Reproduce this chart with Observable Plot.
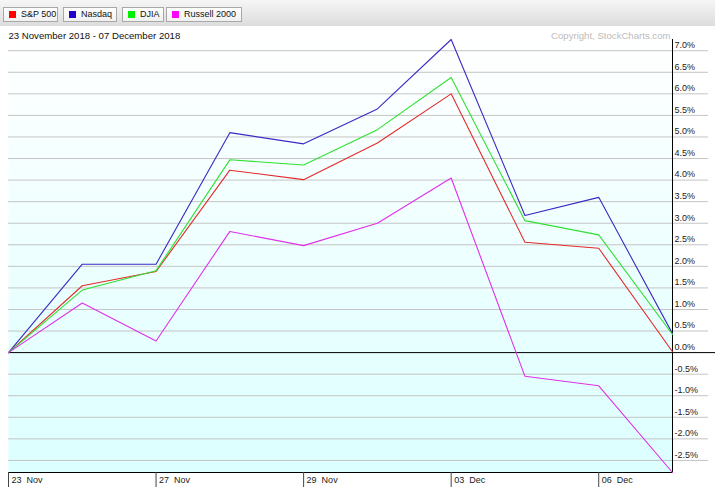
<!DOCTYPE html>
<html>
<head>
<meta charset="utf-8">
<script src="https://cdn.jsdelivr.net/npm/d3@7"></script>
<script src="https://cdn.jsdelivr.net/npm/@observablehq/plot@0.6"></script>
<style>
  html, body { margin: 0; padding: 0; background: #fff; overflow: hidden; }
  body { width: 715px; height: 487px; font-family: "Liberation Sans", Arial, sans-serif; }
  #header { height: 26px; background: linear-gradient(#f6f6f6, #dcdcdc); position: relative; }
  .btn { position: absolute; top: 7px; height: 15px; box-sizing: border-box; border: 1px solid #a8a8a8;
         background: linear-gradient(#ffffff, #f0f0f0); font-size: 9px; line-height: 13px; color: #111;
         padding-left: 17px; white-space: nowrap; }
  .btn i { position: absolute; left: 5px; top: 3px; width: 7px; height: 7px; }
  #chart svg { display: block; }
</style>
</head>
<body>
<div id="header"></div>
<div id="chart"></div>
<script>
// ---- data ----
const dates = ["23 Nov", "26 Nov", "27 Nov", "28 Nov", "29 Nov", "30 Nov", "03 Dec", "04 Dec", "06 Dec", "07 Dec"];
const sp500   = [0, 1.55, 1.88, 4.23, 4.01, 4.86, 6.00, 2.56, 2.42, 0.02];
const nasdaq  = [0, 2.05, 2.05, 5.10, 4.84, 5.65, 7.26, 3.18, 3.60, 0.44];
const djia    = [0, 1.45, 1.90, 4.47, 4.35, 5.17, 6.38, 3.06, 2.73, 0.42];
const russell = [0, 1.15, 0.27, 2.81, 2.48, 3.00, 4.05, -0.55, -0.77, -2.78];
const seriesNames = ["S&P 500", "Nasdaq", "DJIA", "Russell 2000"];
const seriesColors = ["#e42a2a", "#3c28c4", "#30e030", "#e030e8"];
const legendColors = ["#ff0000", "#2200cc", "#00ee00", "#ff00ff"];
const yTicks = [-2.5, -2.0, -1.5, -1.0, -0.5, 0.0, 0.5, 1.0, 1.5, 2.0, 2.5, 3.0, 3.5, 4.0, 4.5, 5.0, 5.5, 6.0, 6.5, 7.0];
const xTickLabels = ["23 Nov", "27 Nov", "29 Nov", "03 Dec", "06 Dec"];
const dateRange = "23 November 2018 - 07 December 2018";
const copyright = "Copyright, StockCharts.com";

// ---- legend (HTML header) ----
const header = document.getElementById("header");
const btnLefts = [3, 63, 122, 166];
const btnWidths = [55, 54, 42, 76];
seriesNames.forEach((name, i) => {
  const b = document.createElement("div");
  b.className = "btn";
  b.style.left = btnLefts[i] + "px";
  b.style.width = btnWidths[i] + "px";
  const sw = document.createElement("i");
  sw.style.background = legendColors[i];
  b.appendChild(sw);
  b.appendChild(document.createTextNode(name));
  header.appendChild(b);
});

// ---- table ----
const allSeries = [sp500, nasdaq, djia, russell];
const rows = [];
allSeries.forEach((vals, s) => vals.forEach((v, i) => rows.push({series: seriesNames[s], date: dates[i], value: v})));

const chart = Plot.plot({
  width: 715,
  height: 461,
  marginTop: 13,
  marginBottom: 15,
  marginLeft: 8,
  marginRight: 43,
  style: {fontFamily: "'Liberation Sans', Arial, sans-serif", background: "transparent", overflow: "visible"},
  x: {type: "point", domain: dates, padding: 0, round: false},
  y: {domain: d3.extent(rows, d => d.value)},
  color: {domain: seriesNames, range: seriesColors},
  marks: [
    Plot.frame({fill: "url(#bgGrad)", stroke: null}),
    Plot.ruleY(yTicks.filter(d => d !== 0), {stroke: "#c4c4c4", strokeWidth: 1, insetRight: -36}),
    Plot.ruleY([0], {stroke: "#000", strokeWidth: 1, insetRight: -43}),
    Plot.ruleX([dates[dates.length - 1]], {stroke: "#000", strokeWidth: 1}),
    Plot.ruleY([d3.min(rows, d => d.value)], {stroke: "#000", strokeWidth: 1.2}),
    Plot.axisY(yTicks, {anchor: "right", tickSize: 0, tickPadding: 2, dy: -5.5, label: null,
      tickFormat: d => d.toFixed(1) + "%", fontSize: 9, fill: "#222"}),
    Plot.axisX(xTickLabels, {anchor: "bottom", tickSize: 15, label: null, text: null, stroke: "#444"}),
    Plot.axisX(xTickLabels, {anchor: "bottom", tickSize: 0, tickPadding: 4, label: null,
      textAnchor: "start", dx: 3, fontSize: 9, fill: "#222",
      tickFormat: d => d.replace(" ", "\u00a0 ")}),
    Plot.line(rows, {x: "date", y: "value", z: "series", stroke: "series", strokeWidth: 1.1}),
    Plot.text([dateRange], {frameAnchor: "top-left", dy: -7, textAnchor: "start", fontSize: 9.6, fill: "#111"}),
    Plot.text([copyright], {frameAnchor: "top-right", dx: -2, dy: -7, textAnchor: "end", fontSize: 9.6, fill: "#bcbcbc"})
  ]
});

const svg = d3.select(chart);
const defs = svg.insert("defs", ":first-child");
const grad = defs.append("linearGradient").attr("id", "bgGrad")
  .attr("x1", 0).attr("y1", 0).attr("x2", 0).attr("y2", 1);
grad.append("stop").attr("offset", "0%").attr("stop-color", "#ffffff");
grad.append("stop").attr("offset", "100%").attr("stop-color", "#dcffff");

document.getElementById("chart").appendChild(chart);
</script>
</body>
</html>
